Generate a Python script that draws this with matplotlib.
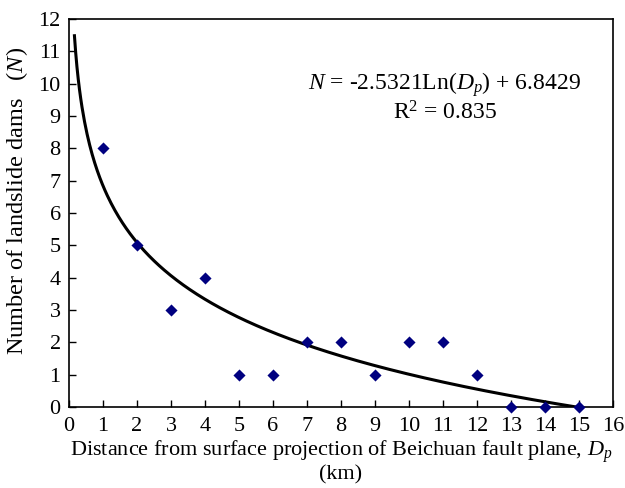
import numpy as np
import matplotlib
matplotlib.use("Agg")
import matplotlib.pyplot as plt

plt.rcParams['font.family'] = ['Liberation Serif', 'DejaVu Serif']
plt.rcParams['mathtext.fontset'] = 'custom'
plt.rcParams['mathtext.rm'] = 'Liberation Serif'
plt.rcParams['mathtext.it'] = 'Liberation Serif:italic'

distance_km = [1, 2, 3, 4, 5, 6, 7, 8, 9, 10, 11, 12, 13, 14, 15]
dam_count = [8, 5, 3, 4, 1, 1, 2, 2, 1, 2, 2, 1, 0, 0, 0]
fit_a = -2.5321
fit_b = 6.8429
fit_range = (0.16, 15.0)
x_ticks = list(range(0, 17))
y_ticks = list(range(0, 13))

fig = plt.figure(figsize=(6.25, 4.88), dpi=100)
ax = fig.add_axes([0.1104, 0.166, 0.8704, 0.795])

xs = np.linspace(fit_range[0], fit_range[1], 400)
ax.plot(xs, fit_a * np.log(xs) + fit_b, color='black', lw=2.2, zorder=2)
ax.scatter(distance_km, dam_count, marker='D', s=38, color='#000080',
           zorder=3, clip_on=False, linewidths=0)

ax.set_xlim(0, 16)
ax.set_ylim(0, 12)
ax.set_xticks(x_ticks)
ax.set_yticks(y_ticks)
ax.tick_params(axis='x', direction='in', length=5, width=1, labelsize=16, pad=7)
ax.tick_params(axis='y', direction='in', length=5, width=1, labelsize=16, pad=6)
for s in ax.spines.values():
    s.set_linewidth(1.2)

ax.set_xlabel("Distance from surface projection of Beichuan fault plane, $D_{p}$\n(km)",
              fontsize=16, labelpad=2, linespacing=1.0)
ax.set_ylabel("Number of landslide dams   ($N$)", fontsize=17.5)
ax.yaxis.set_label_coords(-0.072, 0.53)

ax.text(11.05, 9.96, "$N$ = -2.5321Ln($D_{p}$) + 6.8429", fontsize=17, ha='center', va='center')
ax.text(11.05, 9.09, "R$^{2}$ = 0.835", fontsize=17, ha='center', va='center')

fig.savefig("out.png", dpi=100)
